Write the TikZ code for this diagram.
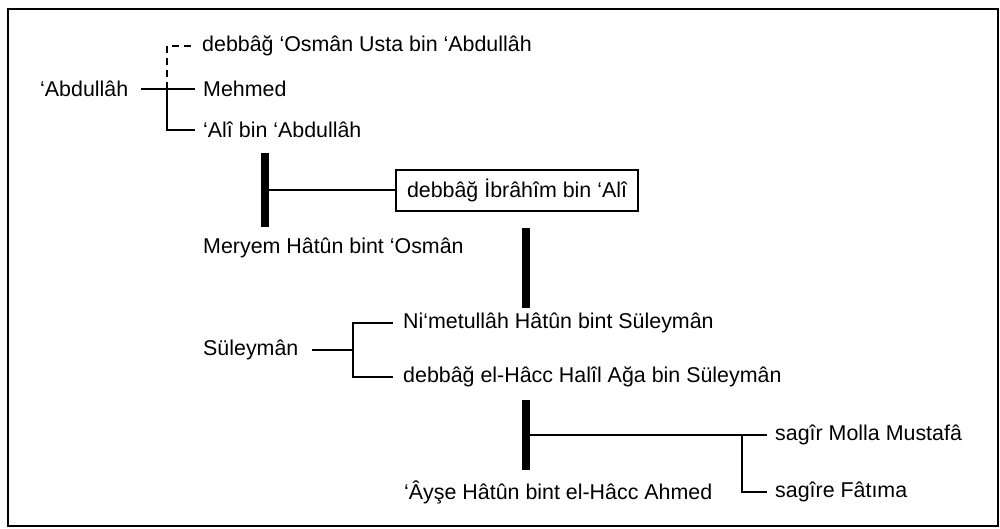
\documentclass[tikz,border=0pt]{standalone}
\usepackage{fontspec}
\setmainfont{Liberation Sans}
\begin{document}
\begin{tikzpicture}[x=1pt,y=-1pt,
  person/.style={anchor=west,inner sep=0pt,font=\fontsize{21.4}{25}\selectfont},
  link/.style={line width=1.5pt},
  bar/.style={line width=8pt},
  boxed/.style={person,draw,line width=2pt,inner xsep=11pt,inner ysep=9pt}]
\useasboundingbox (0,0) rectangle (1000,528);
\draw[line width=1.8pt] (8,9) rectangle (998,526);
% generation 1
\node[person] (abd) at (40,89) {‘Abdullâh};
\node[person] (osm) at (202,46) {debbâğ ‘Osmân Usta bin ‘Abdullâh};
\node[person] (meh) at (203,89) {Mehmed};
\node[person] (ali) at (203,130) {‘Alî bin ‘Abdullâh};
\coordinate (j1) at (167,89);
\draw[link] ([xshift=13pt]abd.east) -- ([xshift=-8pt]meh.west);
\draw[link] (j1) |- ([xshift=-8pt]ali.west);
\draw[link,dash pattern=on 7pt off 5pt] (j1) |- ([xshift=-7pt]osm.west);
% marriage 1
\coordinate (b1t) at (265,153);
\coordinate (b1b) at (265,227);
\draw[bar] (b1t) -- (b1b);
\node[boxed] (ibr) at (395,190) {debbâğ İbrâhîm bin ‘Alî};
\draw[link] (265,190) -- (ibr.west);
\node[person] (mer) at (203,248) {Meryem Hâtûn bint ‘Osmân};
% marriage 2 bar
\coordinate (b2t) at (526,228);
\coordinate (b2b) at (526,308);
\draw[bar] (b2t) -- (b2b);
% generation Suleyman
\node[person] (sul) at (203,350) {Süleymân};
\node[person] (nim) at (403,323) {Ni‘metullâh Hâtûn bint Süleymân};
\node[person] (hal) at (403,377) {debbâğ el-Hâcc Halîl Ağa bin Süleymân};
\coordinate (j2) at (353,350);
\draw[link] ([xshift=13pt]sul.east) -- (j2);
\draw[link] (j2) |- ([xshift=-10pt]nim.west);
\draw[link] (j2) |- ([xshift=-10pt]hal.west);
% marriage 3
\coordinate (b3t) at (526,400);
\coordinate (b3b) at (526,470);
\draw[bar] (b3t) -- (b3b);
\node[person] (mus) at (775,435) {sagîr Molla Mustafâ};
\node[person] (fat) at (775,492) {sagîre Fâtıma};
\node[person] (ays) at (404,492) {‘Âyşe Hâtûn bint el-Hâcc Ahmed};
\coordinate (j3) at (742,435);
\draw[link] (526,435) -- ([xshift=-8pt]mus.west);
\draw[link] (j3) |- ([xshift=-8pt]fat.west);
\end{tikzpicture}
\end{document}
